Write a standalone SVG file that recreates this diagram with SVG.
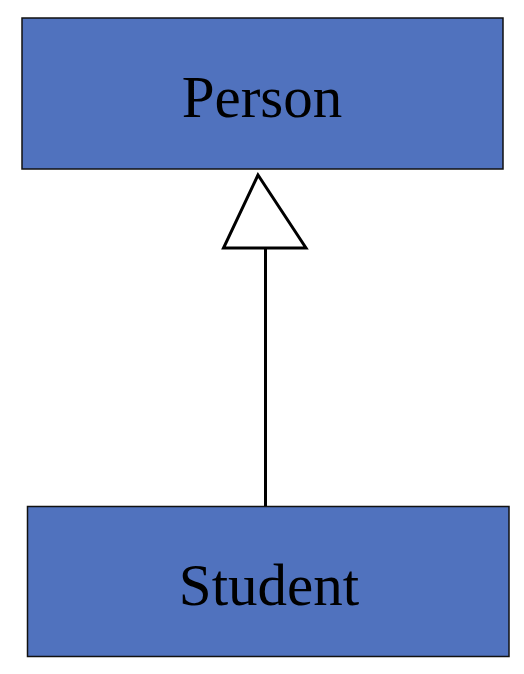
<svg xmlns="http://www.w3.org/2000/svg" width="524" height="674" viewBox="0 0 524 674">
<style>
.box{fill:#5072BE;stroke:#111;stroke-width:1.5}
.lbl{font-family:"Liberation Serif","Times New Roman",serif;font-size:59px;fill:#000;text-anchor:middle}
.conn{stroke:#000;stroke-width:3;fill:none}
.head{fill:#fff;stroke:#000;stroke-width:3;stroke-linejoin:miter}
</style>
<rect width="524" height="674" fill="#fff"/>
<g id="person">
<rect class="box" x="22" y="18" width="481" height="151"/>
<text class="lbl" x="262" y="117">Person</text>
</g>
<g id="student">
<rect class="box" x="27.5" y="506.5" width="481.5" height="150"/>
<text class="lbl" x="269" y="605">Student</text>
</g>
<g id="connectors">
<line class="conn" x1="265.5" y1="249" x2="265.5" y2="506"/>
<polygon class="head" points="258,175 223.5,248 306,248"/>
</g>
</svg>
